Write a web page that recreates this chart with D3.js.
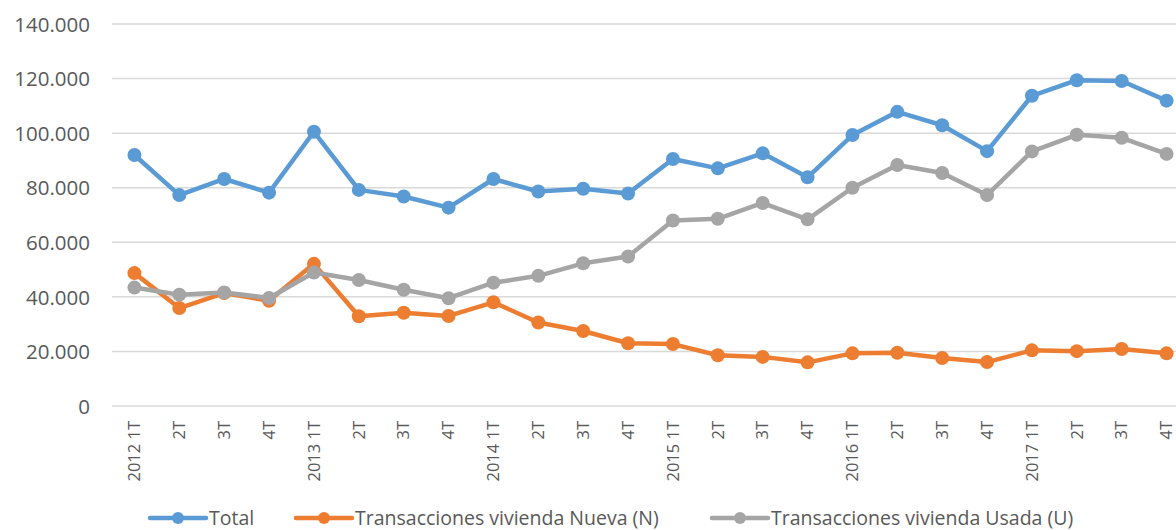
<!DOCTYPE html>
<html>
<head>
<meta charset="utf-8">
<script src="https://cdn.jsdelivr.net/npm/d3@7"></script>
<style>
  body { margin: 0; background: #fff; }
  text { font-family: "Open Sans", sans-serif; fill: #595959; }
</style>
</head>
<body>
<script>
// trimestres 2012-2017
var quarterLabels = ["2012 1T","2T","3T","4T","2013 1T","2T","3T","4T","2014 1T","2T","3T","4T",
  "2015 1T","2T","3T","4T","2016 1T","2T","3T","4T","2017 1T","2T","3T","4T"];

var totalValues = [92000,77300,83200,78200,100500,79200,76800,72700,83200,78600,79600,77900,
  90500,87100,92600,83800,99300,107800,102900,93400,113700,119400,119100,111900];
var nuevaValues = [48700,35900,41400,38600,52100,32900,34200,33000,38000,30600,27500,23000,
  22700,18600,18000,16000,19300,19500,17600,16100,20400,20100,20900,19300];
var usadaValues = [43400,40800,41600,39600,48900,46200,42600,39500,45200,47700,52300,54800,
  68000,68600,74400,68400,80000,88300,85400,77300,93300,99400,98300,92400];

var seriesNames = ["Total","Transacciones vivienda Nueva (N)","Transacciones vivienda Usada (U)"];
var seriesColors = ["#5B9BD5","#ED7D31","#A5A5A5"];
var yTicks = [0,20000,40000,60000,80000,100000,120000,140000];

var width = 1176, height = 530;
var svg = d3.select("body").append("svg").attr("width", width).attr("height", height);

var idx = d3.range(quarterLabels.length);
var x = d3.scaleBand().domain(idx).range([112, 1189]);
var y = d3.scaleLinear().domain([0, 140000]).range([406, 24]);

var es = d3.formatLocale({decimal: ",", thousands: ".", grouping: [3], currency: ["", " €"]});
var fmt = es.format(",d");

// rejilla
svg.append("g").selectAll("line").data(yTicks).enter().append("line")
  .attr("x1", 112).attr("x2", 1189)
  .attr("y1", function(d){ return y(d); })
  .attr("y2", function(d){ return y(d); })
  .attr("stroke", "#d9d9d9").attr("stroke-width", 1.5);

// eje y
var yAxis = svg.append("g").attr("transform", "translate(90,0)")
  .call(d3.axisLeft(y).tickValues(yTicks).tickFormat(fmt).tickSize(0).tickPadding(0));
yAxis.select(".domain").remove();
yAxis.selectAll("text").attr("font-size", "20.5px").attr("dy", "0.35em");

// eje x
var xAxis = svg.append("g").attr("transform", "translate(0,406)")
  .call(d3.axisBottom(x).tickFormat(function(d){ return quarterLabels[d]; }).tickSize(0));
xAxis.select(".domain").remove();
xAxis.selectAll("text")
  .attr("font-size", "16.5px")
  .attr("transform", "rotate(-90)")
  .attr("text-anchor", "end")
  .attr("x", -15).attr("y", 0).attr("dy", "0.35em");

var allSeries = [totalValues, nuevaValues, usadaValues];
var line = d3.line()
  .x(function(d, i){ return x(i) + x.bandwidth() / 2; })
  .y(function(d){ return y(d); });

allSeries.forEach(function(vals, s){
  var g = svg.append("g");
  g.append("path").datum(vals).attr("d", line)
    .attr("fill", "none").attr("stroke", seriesColors[s])
    .attr("stroke-width", 4.5).attr("stroke-linejoin", "round").attr("stroke-linecap", "round");
  g.selectAll("circle").data(vals).enter().append("circle")
    .attr("cx", function(d, i){ return x(i) + x.bandwidth() / 2; })
    .attr("cy", function(d){ return y(d); })
    .attr("r", 7).attr("fill", seriesColors[s]);
});

// leyenda
var legendX = [150, 296, 712];
var leg = svg.append("g").attr("transform", "translate(0,518)");
seriesNames.forEach(function(name, s){
  var lg = leg.append("g").attr("transform", "translate(" + legendX[s] + ",0)");
  lg.append("line").attr("x1", 0).attr("x2", 56).attr("y1", 0).attr("y2", 0)
    .attr("stroke", seriesColors[s]).attr("stroke-width", 4.5).attr("stroke-linecap", "round");
  lg.append("circle").attr("cx", 28).attr("cy", 0).attr("r", 6).attr("fill", seriesColors[s]);
  lg.append("text").attr("x", 59).attr("y", 0).attr("dy", "0.35em")
    .attr("font-size", "19.5px").text(name);
});
</script>
</body>
</html>
